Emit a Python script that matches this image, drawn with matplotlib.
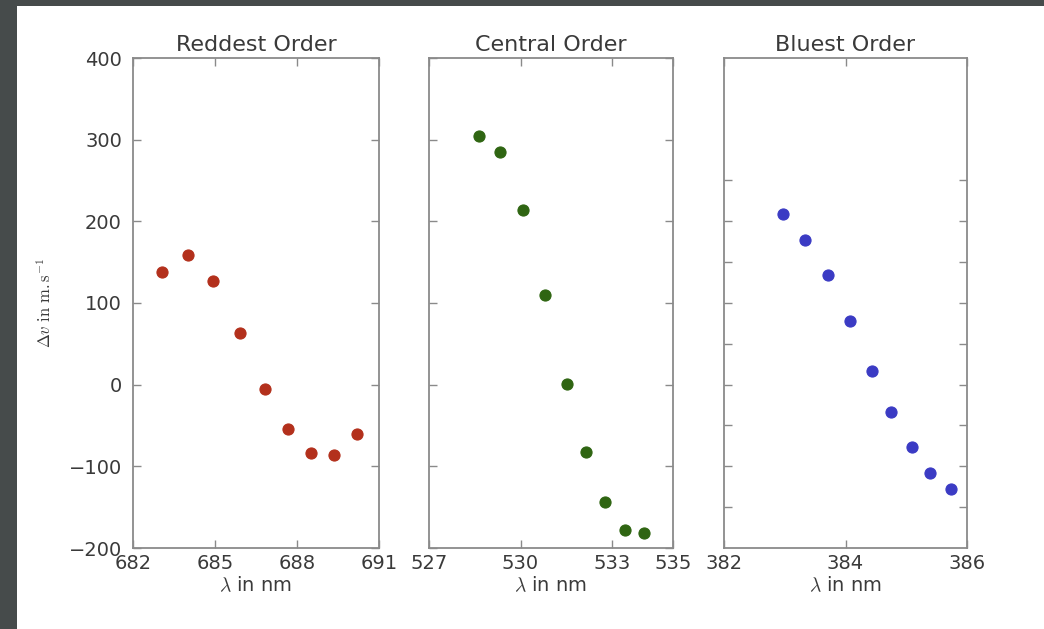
import matplotlib
matplotlib.use("Agg")
import matplotlib.pyplot as plt
from matplotlib.patches import Rectangle

# ---- data ----
red_wl = [683.06, 684.00, 684.93, 685.90, 686.83, 687.68, 688.51, 689.34, 690.18]
red_dv = [137.6, 159.2, 127.0, 62.9, -5.3, -54.6, -83.3, -86.4, -60.4]

mid_wl = [528.64, 529.33, 530.08, 530.80, 531.53, 532.15, 532.77, 533.44, 534.04]
mid_dv = [304.5, 284.6, 213.9, 109.8, 0.5, -82.0, -143.6, -177.9, -182.0]

blue_wl = [382.97, 383.34, 383.72, 384.07, 384.44, 384.75, 385.09, 385.39, 385.73]
blue_dv = [208.6, 177.5, 134.7, 77.6, 16.4, -33.0, -76.7, -107.8, -127.7]

titles = ["Reddest Order", "Central Order", "Bluest Order"]
xlims = [(682, 691), (527, 535), (382, 386)]
xticks = [[682, 685, 688, 691], [527, 530, 533, 535], [382, 384, 386]]
yticks = [list(range(-200, 401, 100)), list(range(-200, 401, 100)),
          list(range(-150, 251, 50))]
colors = ["#b3301c", "#2f6512", "#3b3bc4"]

plt.rcParams["mathtext.fontset"] = "cm"

fig = plt.figure(figsize=(10.44, 6.29), dpi=100, facecolor="#464b4b")
# white canvas inside the dark frame
fig.patches.append(Rectangle((17 / 1044, 0), 1, 1 - 6 / 629,
                             transform=fig.transFigure, facecolor="white",
                             edgecolor="none", zorder=-10))

lefts = [133, 429, 724]
widths = [246, 244, 243]
bottom = 1 - 548 / 629
height = 490 / 629

series = [(red_wl, red_dv), (mid_wl, mid_dv), (blue_wl, blue_dv)]
txt = "#3a3a3a"
spine = "#8a8a8a"

for i, (wl, dv) in enumerate(series):
    ax = fig.add_axes([lefts[i] / 1044, bottom, widths[i] / 1044, height])
    ax.plot(wl, dv, "o", color=colors[i], ms=8, mec=colors[i], mew=0.8)
    ax.set_xlim(*xlims[i])
    ax.set_ylim(-200, 400)
    ax.set_xticks(xticks[i])
    ax.set_yticks(yticks[i])
    ax.tick_params(direction="in", top=True, right=True, length=6,
                   width=1, color=spine, labelsize=14, labelcolor=txt)
    ax.tick_params(axis="y", pad=8)
    ax.tick_params(axis="x", pad=4)
    if i > 0:
        ax.set_yticklabels([])
    for s in ax.spines.values():
        s.set_color(spine)
        s.set_linewidth(1.3)
    ax.set_title(titles[i], fontsize=16, color=txt, pad=5)
    ax.set_xlabel(r"$\lambda$ in nm", fontsize=14, color=txt, labelpad=2)
    if i == 0:
        ax.set_ylabel(r"$\Delta v\ \mathrm{in\ m.s}^{-1}$", fontsize=12,
                      color=txt, labelpad=10)

fig.savefig("out.png", dpi=100, facecolor=fig.get_facecolor())
